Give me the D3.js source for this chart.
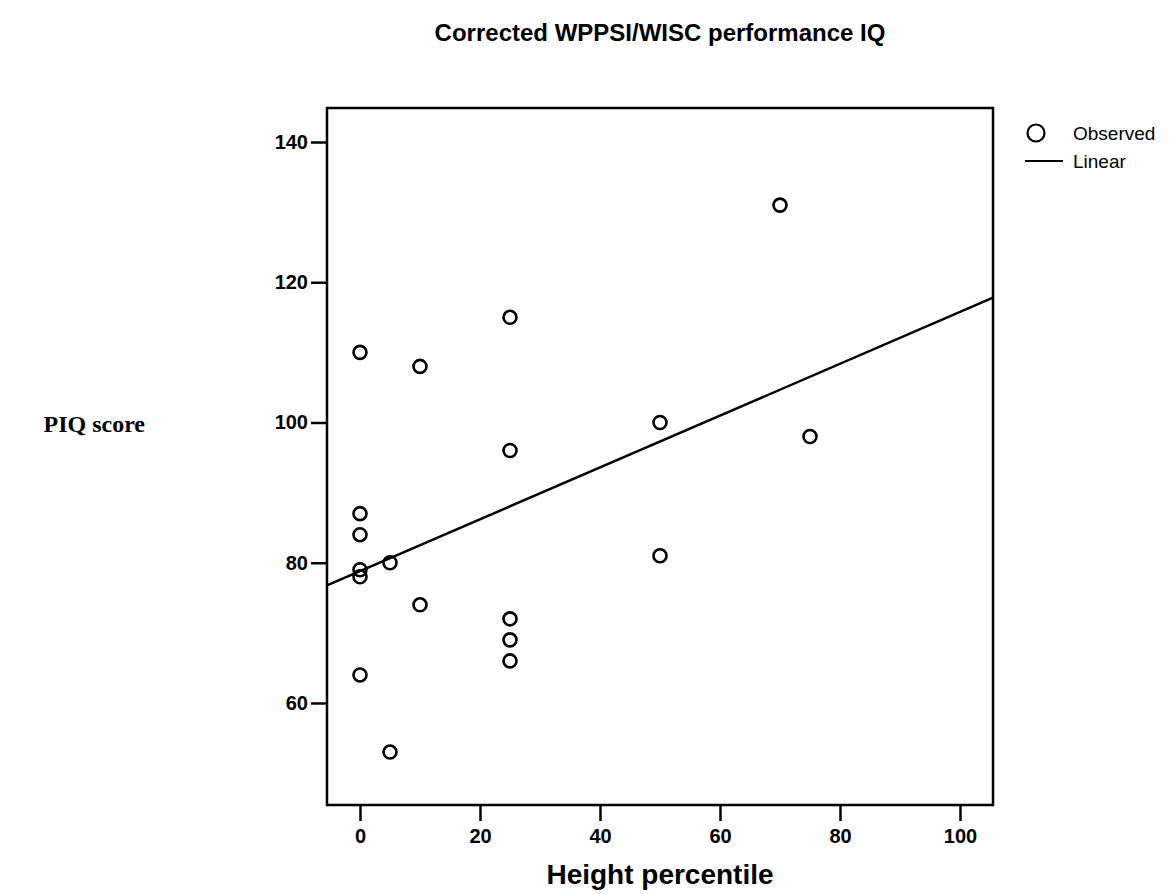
<!DOCTYPE html>
<html>
<head>
  <meta charset="utf-8">
  <script src="https://d3js.org/d3.v7.min.js"></script>
  <style>
    body { margin: 0; background: #fff; }
    .sans { font-family: 'Liberation Sans', Arial, sans-serif; }
    .tick text { font-family: 'Liberation Sans', Arial, sans-serif; font-size: 20px; font-weight: bold; fill: #000; }
    .tick line, .domain { stroke: #000; stroke-width: 2.5px; }
    .frame { fill: none; stroke: #000; stroke-width: 2.5px; }
    .obs { fill: none; stroke: #000; stroke-width: 2.6px; }
  </style>
</head>
<body>
<div id="chart"></div>
<script>
  // data
  var heightPct = [0, 0, 0, 0, 0, 0, 5, 5, 10, 10, 25, 25, 25, 25, 25, 50, 50, 70, 75];
  var piqScore  = [110, 87, 84, 79, 78, 64, 80, 53, 108, 74, 115, 96, 72, 69, 66, 100, 81, 131, 98];
  var xTicks = [0, 20, 40, 60, 80, 100];
  var yTicks = [60, 80, 100, 120, 140];

  var W = 1173, H = 894;
  var plotL = 327, plotR = 993, plotT = 108, plotB = 805;

  var svg = d3.select("#chart").append("svg")
      .attr("width", W)
      .attr("height", H);

  var x = d3.scaleLinear().domain([-5.5, 105.5]).range([plotL, plotR]);
  var y = d3.scaleLinear().domain([45.45, 144.85]).range([plotB, plotT]);

  // x axis
  var xAxis = d3.axisBottom(x).tickValues(xTicks).tickSize(16).tickPadding(8).tickSizeOuter(0);
  svg.append("g")
      .attr("transform", "translate(0," + plotB + ")")
      .call(xAxis)
      .call(function(g) { g.select(".domain").remove(); });

  // y axis
  var yAxis = d3.axisLeft(y).tickValues(yTicks).tickSize(16).tickPadding(3).tickSizeOuter(0);
  svg.append("g")
      .attr("transform", "translate(" + plotL + ",0)")
      .call(yAxis)
      .call(function(g) { g.select(".domain").remove(); });

  // plot frame
  svg.append("rect")
      .attr("class", "frame")
      .attr("x", plotL)
      .attr("y", plotT)
      .attr("width", plotR - plotL)
      .attr("height", plotB - plotT);

  // least squares line
  var n = heightPct.length;
  var mx = d3.mean(heightPct), my = d3.mean(piqScore);
  var sxy = 0, sxx = 0;
  for (var i = 0; i < n; i++) {
    sxy += (heightPct[i] - mx) * (piqScore[i] - my);
    sxx += (heightPct[i] - mx) * (heightPct[i] - mx);
  }
  var slope = sxy / sxx, icept = my - slope * mx;
  var xd = x.domain();

  svg.append("line")
      .attr("x1", x(xd[0])).attr("y1", y(icept + slope * xd[0]))
      .attr("x2", x(xd[1])).attr("y2", y(icept + slope * xd[1]))
      .attr("stroke", "#000")
      .attr("stroke-width", 2.5);

  // observed points
  svg.selectAll("circle.obs")
      .data(heightPct.map(function(d, i) { return [d, piqScore[i]]; }))
      .enter().append("circle")
      .attr("class", "obs")
      .attr("cx", function(d) { return x(d[0]); })
      .attr("cy", function(d) { return y(d[1]); })
      .attr("r", 6.5);

  // titles
  svg.append("text")
      .attr("class", "sans")
      .attr("x", (plotL + plotR) / 2)
      .attr("y", 41)
      .attr("text-anchor", "middle")
      .attr("font-size", 24)
      .attr("font-weight", "bold")
      .text("Corrected WPPSI/WISC performance IQ");

  svg.append("text")
      .attr("class", "sans")
      .attr("x", (plotL + plotR) / 2)
      .attr("y", 884)
      .attr("text-anchor", "middle")
      .attr("font-size", 28)
      .attr("font-weight", "bold")
      .text("Height percentile");

  svg.append("text")
      .attr("x", 145)
      .attr("y", 432)
      .attr("text-anchor", "end")
      .attr("font-family", "'Liberation Serif', 'Times New Roman', serif")
      .attr("font-size", 24)
      .attr("font-weight", "bold")
      .text("PIQ score");

  // legend
  var lg = svg.append("g").attr("class", "sans").attr("font-size", 19);
  lg.append("circle")
      .attr("cx", 1036).attr("cy", 133).attr("r", 8.5)
      .attr("fill", "none").attr("stroke", "#000").attr("stroke-width", 2.2);
  lg.append("text").attr("x", 1073).attr("y", 140).text("Observed");
  lg.append("line")
      .attr("x1", 1025).attr("x2", 1063).attr("y1", 161).attr("y2", 161)
      .attr("stroke", "#000").attr("stroke-width", 2.2);
  lg.append("text").attr("x", 1073).attr("y", 168).text("Linear");
</script>
</body>
</html>
